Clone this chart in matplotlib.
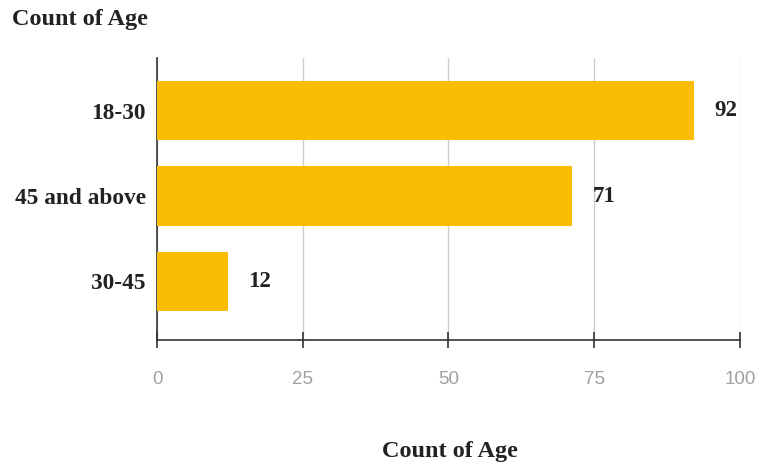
import matplotlib
matplotlib.use("Agg")
import matplotlib.pyplot as plt
from matplotlib.ticker import FixedLocator

categories = ["18-30", "45 and above", "30-45"]
counts = [92, 71, 12]
x_ticks = [0, 25, 50, 75, 100]
title = "Count of Age"
x_label = "Count of Age"

bar_color = "#FBBC04"
serif = ["Liberation Serif", "DejaVu Serif"]
sans = ["Liberation Sans", "DejaVu Sans"]

fig = plt.figure(figsize=(7.57, 4.66), dpi=100)
ax = fig.add_axes([0.2074, 0.2704, 0.7701, 0.6051])

ypos = list(range(len(categories)))
bars = ax.barh(ypos, counts, height=0.67, color=bar_color,
               edgecolor=bar_color, linewidth=1.5, zorder=3)
for b in bars:
    b.set_joinstyle("round")

for y, v in zip(ypos, counts):
    ax.annotate(str(v), xy=(v, y), xytext=(15.5, 0), textcoords="offset points",
                ha="left", va="center", fontsize=16.5, fontweight="bold",
                family=serif, color="#222222")

ax.set_xlim(0, 100)
ax.set_ylim(2.69, -0.62)
ax.set_yticks(ypos)
ax.set_yticklabels(categories, fontsize=16.8, fontweight="bold", family=serif,
                   color="#222222")
ax.xaxis.set_major_locator(FixedLocator(x_ticks))
ax.set_xticklabels([str(t) for t in x_ticks], fontsize=13.5, family=sans,
                   color="#a0a0a0")

ax.grid(axis="x", color="#cccccc", linewidth=1, zorder=0)
for s in ["top", "right"]:
    ax.spines[s].set_visible(False)
ax.spines["left"].set_color("#333333")
ax.spines["bottom"].set_color("#333333")
ax.spines["left"].set_linewidth(1.2)
ax.spines["bottom"].set_linewidth(1.2)
ax.tick_params(axis="y", length=0, pad=8)
ax.tick_params(axis="x", direction="inout", length=12, width=1.2,
               color="#333333", pad=16)

fig.text(450 / 757, 1 - 452 / 466, x_label, fontsize=17.5, fontweight="bold",
         family=serif, color="#222222", ha="center", va="center")
fig.text(12 / 757, 1 - 20 / 466, title, fontsize=17.5, fontweight="bold",
         family=serif, color="#222222", ha="left", va="center")

fig.savefig("out.png", dpi=100)
